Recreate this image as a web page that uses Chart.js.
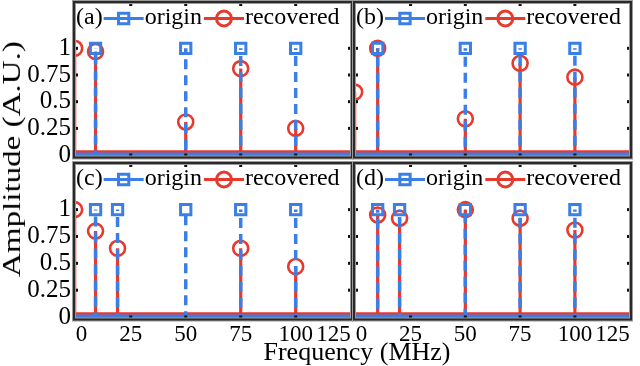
<!DOCTYPE html>
<html>
<head>
<meta charset="utf-8">
<script src="https://cdn.jsdelivr.net/npm/chart.js@4/dist/chart.umd.min.js"></script>
<style>
  html, body { margin: 0; padding: 0; background: #fff; }
  #wrap { position: relative; width: 640px; height: 366px; overflow: hidden; font-family: "Liberation Serif", serif; }
  #wrap canvas { position: absolute; left: 0; top: 0; }
  .axis-title { position: absolute; font-size: 26px; line-height: 26px; white-space: nowrap; color: #000; }
  #yTitle { left: 12px; top: 159px; transform: translate(-50%, -50%) rotate(-90deg) scaleX(1.27); }
  #xTitle { left: 357px; top: 352px; transform: translate(-50%, -50%); }
</style>
</head>
<body>
<div id="wrap">
  <canvas id="panelA" width="640" height="366"></canvas>
  <canvas id="panelB" width="640" height="366"></canvas>
  <canvas id="panelC" width="640" height="366"></canvas>
  <canvas id="panelD" width="640" height="366"></canvas>
  <div class="axis-title" id="yTitle">Amplitude (A.U.)</div>
  <div class="axis-title" id="xTitle">Frequency (MHz)</div>
</div>
<script>
// axis ticks
const xTicks = [0, 25, 50, 75, 100, 125];
const yTicks = [0, 0.25, 0.5, 0.75, 1];
const yTickLabels = ["0", "0.25", "0.5", "0.75", "1"];
const seriesNames = ["origin", "recovered"];

// (a)
const freqA = [9, 50, 75, 100];
const originA = [1, 1, 1, 1];
const recFreqA = [-0.5, 9, 50, 75, 100];
const recoveredA = [1, 0.97, 0.31, 0.81, 0.25];

// (b)
const freqB = [10, 50, 75, 100];
const originB = [1, 1, 1, 1];
const recFreqB = [-0.5, 10, 50, 75, 100];
const recoveredB = [0.59, 1, 0.34, 0.86, 0.73];

// (c)
const freqC = [9, 19, 50, 75, 100];
const originC = [1, 1, 1, 1, 1];
const recFreqC = [-0.5, 9, 19, 75, 100];
const recoveredC = [1, 0.8, 0.64, 0.64, 0.47];

// (d)
const freqD = [10, 20, 50, 75, 100];
const originD = [1, 1, 1, 1, 1];
const recFreqD = [10, 20, 50, 75, 100];
const recoveredD = [0.95, 0.92, 1, 0.92, 0.81];

// noise floor of each spectrum
const originFloor = 0;
const recoveredFloor = 0.03;

const X_MIN = -0.8, X_MAX = 125.6;
const Y_MIN = -0.023, Y_MAX = 1.434;
const BLUE = "#3a7ee6";
const RED = "#e63a2e";
const FONT = "Liberation Serif";

// one upward stroke per peak, the path breaks at the top so a dash pattern is not drawn twice
function stemPoints(freqs, amps, floor) {
    const pts = [{ x: X_MIN, y: floor, peak: false }];
    freqs.forEach((f, i) => {
        pts.push({ x: f, y: floor, peak: false });
        pts.push({ x: f, y: amps[i], peak: true });
        pts.push({ x: f, y: null, peak: false });
        pts.push({ x: f, y: floor, peak: false });
    });
    pts.push({ x: X_MAX, y: floor, peak: false });
    return pts;
}

const originMarker = { pointStyle: "rect", radius: 7.3, rotation: 0, borderWidth: 3 };
const recoveredMarker = { pointStyle: "circle", radius: 7.5, rotation: 0, borderWidth: 2.6 };

// frame, inner tick marks and the in-plot legend
const panelDecor = {
    id: "panelDecor",
    afterDatasetsDraw(chart, args, opts) {
        const { ctx, chartArea: a, scales } = chart;
        ctx.save();
        ctx.fillStyle = "#111";
        xTicks.forEach(v => {
            const px = scales.x.getPixelForValue(v);
            if (px > a.left + 3 && px < a.right - 3) {
                ctx.fillRect(px - 1.5, a.top, 3, 4);
                ctx.fillRect(px - 1.5, a.bottom - 4, 3, 4);
            }
        });
        yTicks.forEach(v => {
            const py = scales.y.getPixelForValue(v);
            if (py > a.top + 3 && py < a.bottom - 3) {
                ctx.fillRect(a.left, py - 1.5, 4, 3);
                ctx.fillRect(a.right - 4, py - 1.5, 4, 3);
            }
        });

        ctx.strokeStyle = "#9a9a9a";
        ctx.lineWidth = 4;
        ctx.strokeRect(a.left, a.top, a.right - a.left, a.bottom - a.top);
        ctx.strokeStyle = "#2a2a2a";
        ctx.lineWidth = 2;
        ctx.strokeRect(a.left, a.top, a.right - a.left, a.bottom - a.top);

        // legend row
        ctx.font = "24px " + FONT;
        ctx.fillStyle = "#000";
        ctx.textBaseline = "alphabetic";
        const base = a.top + 22;
        const mid = a.top + 16.5;
        let x = a.left + 2;
        ctx.fillText(opts.tag, x, base);
        x += ctx.measureText(opts.tag).width + 1;
        [[BLUE, originMarker], [RED, recoveredMarker]].forEach(([col, mk], i) => {
            ctx.strokeStyle = col;
            ctx.lineWidth = 3;
            ctx.setLineDash([]);
            ctx.beginPath();
            ctx.moveTo(x, mid);
            ctx.lineTo(x + 40, mid);
            ctx.stroke();
            ctx.fillStyle = "rgba(0,0,0,0)";
            Chart.helpers.drawPoint(ctx, mk, x + 20, mid);
            x += 41;
            ctx.fillStyle = "#000";
            ctx.fillText(seriesNames[i], x, base);
            x += ctx.measureText(seriesNames[i]).width + 2;
        });
        ctx.restore();
    }
};

function makePanel(id, tag, area, showX, showY, freqs, origin, recFreqs, recovered) {
    const config = {
        type: "line",
        data: {
            datasets: [
                {
                    label: "origin floor",
                    data: [{ x: X_MIN, y: originFloor }, { x: X_MAX, y: originFloor }],
                    borderColor: BLUE,
                    borderWidth: 5,
                    pointRadius: 0,
                    order: 0,
                },
                {
                    label: seriesNames[0],
                    data: stemPoints(freqs, origin, originFloor),
                    borderColor: BLUE,
                    borderWidth: 3.5,
                    borderDash: [10, 6],
                    pointStyle: "rect",
                    pointRadius: c => (c.raw && c.raw.peak ? originMarker.radius : 0),
                    pointBorderWidth: originMarker.borderWidth,
                    pointBorderColor: BLUE,
                    pointBackgroundColor: "rgba(0,0,0,0)",
                    order: 1,
                },
                {
                    label: seriesNames[1],
                    data: stemPoints(recFreqs, recovered, recoveredFloor),
                    borderColor: RED,
                    borderWidth: 3.2,
                    pointStyle: "circle",
                    pointRadius: c => (c.raw && c.raw.peak ? recoveredMarker.radius : 0),
                    pointBorderWidth: recoveredMarker.borderWidth,
                    pointBorderColor: RED,
                    pointBackgroundColor: "rgba(0,0,0,0)",
                    order: 2,
                },
            ],
        },
        options: {
            responsive: false,
            animation: false,
            clip: 0,
            spanGaps: false,
            elements: { line: { tension: 0 } },
            layout: {
                padding: {
                    left: showY ? 0 : area.left,
                    top: area.top,
                    right: 640 - area.right,
                    bottom: showX ? 0 : 366 - area.bottom,
                },
            },
            plugins: {
                legend: { display: false },
                tooltip: { enabled: false },
                panelDecor: { tag: tag },
            },
            scales: {
                x: {
                    type: "linear",
                    min: X_MIN,
                    max: X_MAX,
                    display: showX,
                    grid: { display: false, drawTicks: false },
                    border: { display: false },
                    afterBuildTicks: s => { s.ticks = xTicks.map(v => ({ value: v })); },
                    afterFit: s => {
                        if (showX) s.height = 366 - area.bottom;
                        s.paddingLeft = 0;
                        s.paddingRight = 0;
                    },
                    ticks: {
                        align: "inner",
                        autoSkip: false,
                        maxRotation: 0,
                        padding: 2,
                        color: "#000",
                        font: { family: FONT, size: 23 },
                        callback: v => String(v),
                    },
                },
                y: {
                    type: "linear",
                    min: Y_MIN,
                    max: Y_MAX,
                    display: showY,
                    grid: { display: false, drawTicks: false },
                    border: { display: false },
                    afterBuildTicks: s => { s.ticks = yTicks.map(v => ({ value: v })); },
                    afterFit: s => {
                        if (showY) s.width = area.left;
                        s.paddingTop = 0;
                        s.paddingBottom = 0;
                    },
                    ticks: {
                        padding: 3,
                        color: "#000",
                        font: { family: FONT, size: 25 },
                        callback: v => yTickLabels[yTicks.indexOf(v)],
                    },
                },
            },
        },
        plugins: [panelDecor],
    };
    return new Chart(document.getElementById(id), config);
}

makePanel("panelA", "(a)", { left: 74, top: 2, right: 352, bottom: 157.5 }, false, true, freqA, originA, recFreqA, recoveredA);
makePanel("panelB", "(b)", { left: 354, top: 2, right: 631, bottom: 157.5 }, false, false, freqB, originB, recFreqB, recoveredB);
makePanel("panelC", "(c)", { left: 74, top: 163, right: 352, bottom: 319.5 }, true, true, freqC, originC, recFreqC, recoveredC);
makePanel("panelD", "(d)", { left: 354, top: 163, right: 631, bottom: 319.5 }, true, false, freqD, originD, recFreqD, recoveredD);
</script>
</body>
</html>
